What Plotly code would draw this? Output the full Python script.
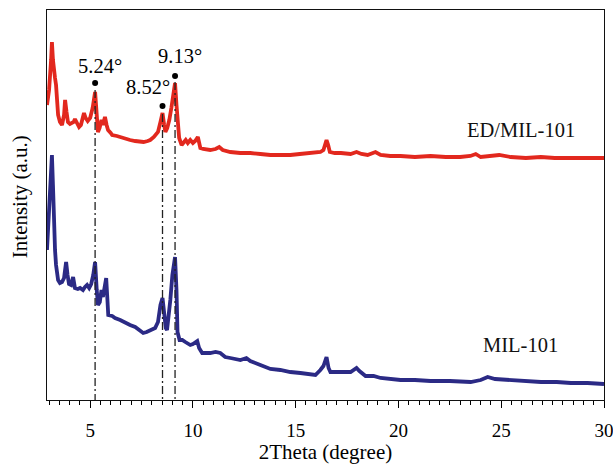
import plotly.graph_objects as go

# XRD patterns, 2theta (degree) vs intensity (a.u.)
theta_ed = [2.90, 3.00, 3.10, 3.14, 3.19, 3.24, 3.29, 3.34, 3.39, 3.44, 3.53, 3.63, 3.73, 3.78,
            3.85, 3.92, 4.02, 4.12, 4.20, 4.26, 4.36, 4.46, 4.55, 4.65, 4.70, 4.78, 4.88, 5.00,
            5.12, 5.24, 5.32, 5.38, 5.46, 5.55, 5.62, 5.72, 5.80, 5.87, 6.00, 6.07, 6.30, 6.46,
            6.70, 6.94, 7.19, 7.43, 7.60, 7.80, 7.92, 8.10, 8.30, 8.42, 8.52, 8.60, 8.66, 8.75,
            8.85, 8.95, 9.05, 9.13, 9.20, 9.27, 9.33, 9.45, 9.55, 9.65, 9.75, 9.87, 10.00, 10.11,
            10.24, 10.30, 10.36, 10.50, 10.84, 11.10, 11.28, 11.45, 11.82, 12.30, 12.79, 13.28,
            13.77, 14.25, 14.74, 15.20, 15.72, 16.20, 16.35, 16.45, 16.50, 16.58, 16.66, 16.90,
            17.20, 17.67, 17.96, 18.20, 18.50, 18.88, 19.13, 19.60, 20.10, 20.80, 21.56, 22.30,
            23.00, 23.50, 23.76, 24.00, 24.50, 24.90, 25.46, 26.20, 26.93, 27.60, 28.39, 29.20,
            30.00]
intensity_ed = [295, 310, 340, 358, 340, 325, 322, 315, 298, 285, 278, 275, 285, 300,
                288, 278, 276, 277, 278, 281, 276, 273, 275, 284, 287, 282, 279, 282,
                292, 308, 282, 268, 272, 280, 275, 283, 275, 270, 267, 265, 264, 263,
                261, 260, 259, 258, 258, 259, 260, 263, 268, 278, 287, 275, 268, 272,
                280, 292, 308, 317, 295, 270, 262, 255, 258, 260, 257, 260, 257, 259,
                263, 259, 252, 251, 250, 251, 253, 250, 248, 247, 247, 246,
                245, 245, 245, 246, 247, 248, 250, 257, 260, 255, 248, 247,
                247, 246, 248, 246, 245, 248, 245, 244, 244, 243, 244, 243,
                243, 244, 246, 243, 244, 245, 243, 242, 243, 242, 242, 242,
                242]

theta_mil = [2.90, 3.00, 3.07, 3.14, 3.19, 3.22, 3.24, 3.27, 3.29, 3.34, 3.44, 3.53, 3.63, 3.73,
             3.78, 3.83, 3.90, 3.97, 4.07, 4.17, 4.26, 4.40, 4.51, 4.65, 4.75, 4.85, 4.95, 5.05,
             5.15, 5.24, 5.32, 5.38, 5.47, 5.55, 5.62, 5.72, 5.78, 5.84, 5.88, 6.07, 6.21, 6.46,
             6.70, 6.94, 7.19, 7.43, 7.58, 7.75, 7.92, 8.16, 8.30, 8.42, 8.52, 8.60, 8.68, 8.74,
             8.82, 8.90, 9.00, 9.13, 9.20, 9.25, 9.35, 9.48, 9.63, 9.75, 9.87, 10.00, 10.21, 10.30,
             10.45, 10.84, 11.10, 11.33, 11.57, 11.82, 12.31, 12.60, 12.79, 13.28, 13.77, 14.25,
             14.74, 15.23, 15.72, 15.96, 16.20, 16.35, 16.50, 16.60, 16.69, 17.18, 17.67, 17.96,
             18.10, 18.40, 18.79, 19.13, 20.10, 20.80, 21.56, 22.50, 23.51, 24.00, 24.34, 24.70,
             25.46, 26.20, 26.93, 27.70, 28.39, 29.20, 30.00]
intensity_mil = [150, 185, 215, 245, 215, 180, 185, 172, 150, 135, 120, 117, 118, 122,
                 136, 138, 125, 116, 115, 123, 112, 111, 112, 110, 113, 115, 112, 116,
                 125, 138, 110, 95, 98, 110, 103, 115, 122, 100, 85, 84, 82, 80,
                 77, 75, 73, 69, 67, 68, 70, 72, 78, 95, 102, 88, 72, 70,
                 82, 100, 125, 143, 110, 68, 60, 60, 58, 57, 55, 56, 59, 52,
                 47, 47, 48, 47, 43, 42, 40, 42, 39, 35, 31, 30,
                 28, 27, 26, 25, 30, 34, 43, 32, 28, 28, 28, 32,
                 29, 24, 24, 22, 20, 20, 19, 19, 18, 20, 23, 21,
                 20, 19, 18, 18, 17, 17, 16]

# Marked reflections
peak_pos = [5.24, 8.52, 9.13]
peak_text = ["5.24°", "8.52°", "9.13°"]
peak_dot = [317, 294, 324]
line_top = [310, 286, 318]
label_dx = [5, -15, 5]
label_dy = [17, 19, 20]

series_names = ["ED/MIL-101", "MIL-101"]
series_label_y = [270, 55]
series_label_x = 25.95

RED = "#e2281e"
BLUE = "#2b2a85"
FONT = "Liberation Serif"

fig = go.Figure()
fig.add_trace(go.Scatter(x=theta_ed, y=intensity_ed, mode="lines",
                         line=dict(color=RED, width=3.8), name=series_names[0],
                         showlegend=False))
fig.add_trace(go.Scatter(x=theta_mil, y=intensity_mil, mode="lines",
                         line=dict(color=BLUE, width=3.8), name=series_names[1],
                         showlegend=False))

# dash-dot guide lines from each marked peak down to the axis
for p, top in zip(peak_pos, line_top):
    fig.add_shape(type="line", xref="x", yref="y", x0=p, x1=p, y0=top, y1=0,
                  line=dict(color="#222222", width=1.3, dash="8px,3px,2px,3px"),
                  layer="above")

fig.add_trace(go.Scatter(x=peak_pos, y=peak_dot, mode="markers",
                         marker=dict(color="black", size=6), showlegend=False,
                         cliponaxis=False))

for p, t, d, dx, dy in zip(peak_pos, peak_text, peak_dot, label_dx, label_dy):
    fig.add_annotation(x=p, y=d, text=t, showarrow=False, xshift=dx, yshift=dy,
                       font=dict(family=FONT, size=20.5, color="black"))

for name, ly in zip(series_names, series_label_y):
    fig.add_annotation(x=series_label_x, y=ly, text=name, showarrow=False,
                       font=dict(family=FONT, size=20.5, color="#111111"))

# y-axis title
fig.add_annotation(xref="paper", yref="paper", x=0, y=0.52, xshift=-27,
                   xanchor="center", yanchor="middle",
                   text="Intensity (a.u.)", textangle=-90, showarrow=False,
                   font=dict(family=FONT, size=21, color="black"))

fig.update_layout(
    width=613, height=464,
    margin=dict(l=47, r=9, t=10, b=64, autoexpand=False),
    paper_bgcolor="white", plot_bgcolor="white",
    font=dict(family=FONT, size=19, color="black"),
    xaxis=dict(
        range=[2.9, 30], tickmode="array", tickvals=[5, 10, 15, 20, 25, 30],
        ticks="outside", ticklen=7, tickwidth=1, tickcolor="black",
        minor=dict(dtick=0.5, tick0=0, ticks="outside", ticklen=4, tickwidth=1,
                   tickcolor="black"),
        showline=True, linecolor="#111111", linewidth=1.3, mirror=True,
        showgrid=False, zeroline=False, automargin=False,
        tickfont=dict(family=FONT, size=19),
        ticklabelstandoff=6, ticklabeloverflow="allow",
        title=dict(text="2Theta (degree)", font=dict(family=FONT, size=21), standoff=16),
    ),
    yaxis=dict(
        range=[0, 390], showticklabels=False, ticks="",
        showline=True, linecolor="#111111", linewidth=1.3, mirror=True,
        showgrid=False, zeroline=False, automargin=False,
    ),
)

fig.write_html("out.html")
